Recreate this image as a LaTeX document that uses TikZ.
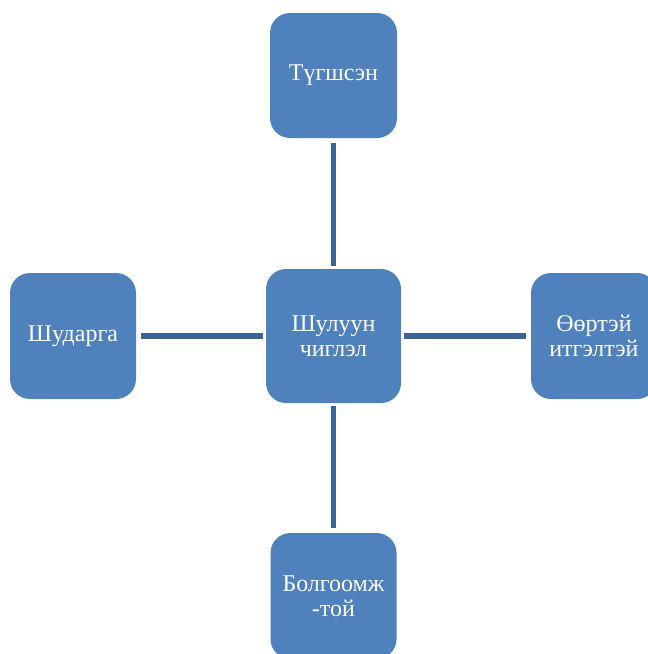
\documentclass[tikz,border=0pt]{standalone}
\usepackage{fontspec}
\setmainfont{Liberation Serif}

\definecolor{BoxBlue}{HTML}{4F81BD}
\definecolor{Link}{HTML}{3D6496}

\tikzset{
  box/.style={rectangle, rounded corners=20pt, fill=BoxBlue, inner sep=0pt,
    text=white, align=center, font=\fontsize{24}{25}\selectfont},
  link/.style={line width=5.5pt, color=Link, shorten <=3pt, shorten >=5pt}
}

\begin{document}
\begin{tikzpicture}[x={(1pt,0pt)}, y={(0pt,-1pt)}]

  \useasboundingbox (0,0) rectangle (648,654);

  %%%%%%%%%%%%%%%% BOXES %%%%%%%%%%%%%%%%
  \node[box, minimum width=135pt, minimum height=134pt] (center) at (333.5,336) {Шулуун\\чиглэл};
  \node[box, minimum width=127pt, minimum height=125pt] (top) at (333.5,75.5) {Түгшсэн};
  \node[box, minimum width=126pt, minimum height=126pt] (left) at (73,336) {Шударга};
  \node[box, minimum width=126pt, minimum height=126pt] (right) at (594,336) {Өөртэй\\итгэлтэй};
  \node[box, minimum width=126pt, minimum height=126pt] (bottom) at (333.5,596) {Болгоомж\\-той};

  %%%%% Links %%%%%
  \draw[link] (center) -- (top);
  \draw[link] (center) -- (left);
  \draw[link] (center) -- (right);
  \draw[link] (center) -- (bottom);

\end{tikzpicture}
\end{document}
